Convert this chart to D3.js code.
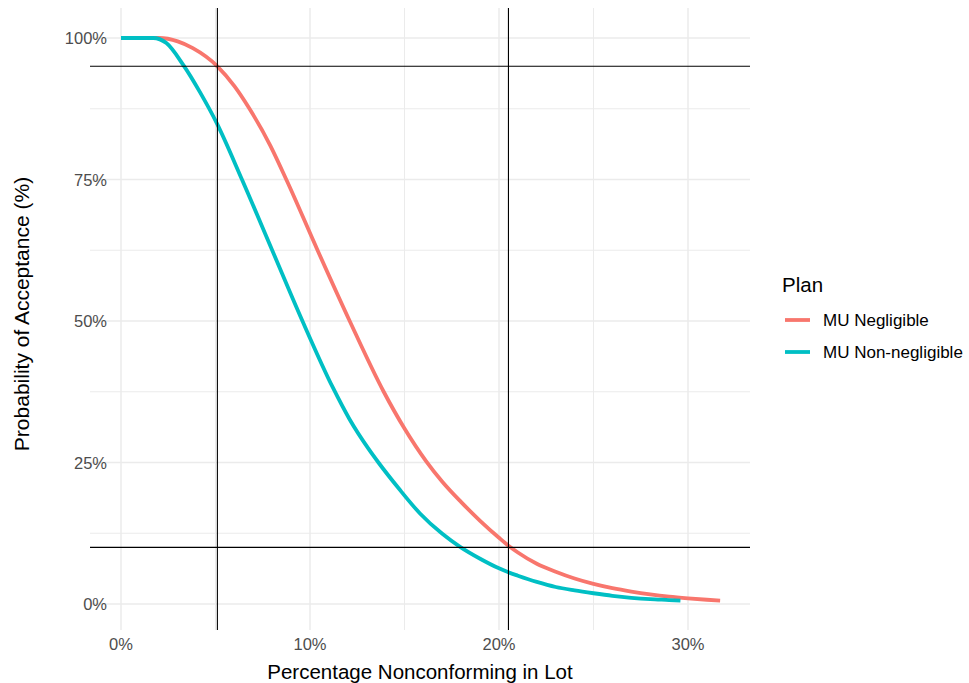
<!DOCTYPE html>
<html><head><meta charset="utf-8">
<script src="https://cdn.jsdelivr.net/npm/d3@7"></script>
<style>body{margin:0;background:#fff}svg{display:block;font-family:"Liberation Sans",Arial,sans-serif}</style>
</head><body><svg id="c" width="969" height="683"></svg>
<script>
// Percentage nonconforming in lot (%) and probability of acceptance (%)
const xNeg = [0,1,2,3,3.8,5.1,6.0,6.8,7.9,8.8,10.4,12.1,13.9,15.0,16.15,17,18,19,20,20.5,21,22,23,24,25,26,27,28,29,30,31,31.7];
const pNeg = [100,100,100,99.4,98.2,95.0,91.5,87.5,81.0,74.6,62.5,50.0,37.5,31.0,25.2,21.6,18.0,14.7,11.7,10.3,9.1,7.1,5.7,4.5,3.55,2.8,2.2,1.7,1.3,1.0,0.75,0.6];
const xNon = [0,1,1.7,2.4,3.3,4.2,5.06,6.4,8.0,9.6,11.2,12.1,13.1,13.62,14.7,15.82,17,17.94,19,20,20.5,21,22,23,24,25,26,27,28,29,29.6];
const pNon = [100,100,100,99.1,95.2,90.3,85.0,75.0,62.5,50.0,38.3,32.6,27.4,25.0,20.4,16.0,12.4,10.1,8.0,6.3,5.6,5.0,3.9,3.0,2.4,1.9,1.45,1.1,0.85,0.7,0.6];
const seriesNames = ["MU Negligible","MU Non-negligible"];
const seriesColors = ["#F8766D","#00BFC4"];
const xTicks = [0,10,20,30];
const xMinor = [5,15,25];
const yTicks = [0,25,50,75,100];
const yMinor = [12.5,37.5,62.5,87.5];
const vLines = [5.1,20.5];
const hLines = [95,10];

const svg = d3.select("#c");
const P = {l:90, r:750, t:8, b:630};
const x = d3.scaleLinear().domain([0,30]).range([121,688]);
const y = d3.scaleLinear().domain([0,100]).range([604,38]);
const g = svg.append("g");

// grid
g.selectAll(".xmin").data(xMinor).join("line").attr("x1",d=>x(d)).attr("x2",d=>x(d)).attr("y1",P.t).attr("y2",P.b).attr("stroke","#EBEBEB").attr("stroke-width",1);
g.selectAll(".ymin").data(yMinor).join("line").attr("y1",d=>y(d)).attr("y2",d=>y(d)).attr("x1",P.l).attr("x2",P.r).attr("stroke","#EBEBEB").attr("stroke-width",1);
g.selectAll(".xmaj").data(xTicks).join("line").attr("x1",d=>x(d)).attr("x2",d=>x(d)).attr("y1",P.t).attr("y2",P.b).attr("stroke","#EBEBEB").attr("stroke-width",1.5);
g.selectAll(".ymaj").data(yTicks).join("line").attr("y1",d=>y(d)).attr("y2",d=>y(d)).attr("x1",P.l).attr("x2",P.r).attr("stroke","#EBEBEB").attr("stroke-width",1.5);

// curves
const line = d3.line().x(d=>x(d[0])).y(d=>y(d[1])).curve(d3.curveMonotoneX);
const data = [d3.zip(xNeg,pNeg), d3.zip(xNon,pNon)];
data.forEach((d,i)=>{
  g.append("path").datum(d).attr("d",line).attr("fill","none").attr("stroke",seriesColors[i]).attr("stroke-width",3.8).attr("stroke-linejoin","round");
});

// reference lines
g.selectAll(".vl").data(vLines).join("line").attr("x1",d=>x(d)).attr("x2",d=>x(d)).attr("y1",P.t).attr("y2",P.b).attr("stroke","#000").attr("stroke-width",1.1);
g.selectAll(".hl").data(hLines).join("line").attr("y1",d=>y(d)).attr("y2",d=>y(d)).attr("x1",P.l).attr("x2",P.r).attr("stroke","#000").attr("stroke-width",1.1);

// axis labels
const fmt = d=>d+"%";
svg.selectAll(".xt").data(xTicks).join("text").attr("x",d=>x(d)).attr("y",650).attr("text-anchor","middle").attr("font-size",16.5).attr("fill","#4D4D4D").text(fmt);
svg.selectAll(".yt").data(yTicks).join("text").attr("x",107).attr("y",d=>y(d)+6).attr("text-anchor","end").attr("font-size",16.5).attr("fill","#4D4D4D").text(fmt);
svg.append("text").attr("x",(P.l+P.r)/2).attr("y",679).attr("text-anchor","middle").attr("font-size",20.5).attr("fill","#000").text("Percentage Nonconforming in Lot");
svg.append("text").attr("transform",`translate(29,314) rotate(-90)`).attr("text-anchor","middle").attr("font-size",21).attr("fill","#000").text("Probability of Acceptance (%)");

// legend
svg.append("text").attr("x",782).attr("y",292).attr("font-size",20.5).attr("fill","#000").text("Plan");
seriesNames.forEach((n,i)=>{
  const cy = 320 + i*32;
  svg.append("line").attr("x1",785).attr("x2",810).attr("y1",cy).attr("y2",cy).attr("stroke",seriesColors[i]).attr("stroke-width",3.8);
  svg.append("text").attr("x",823).attr("y",cy+6).attr("font-size",17).attr("fill","#000").text(n);
});
</script></body></html>
